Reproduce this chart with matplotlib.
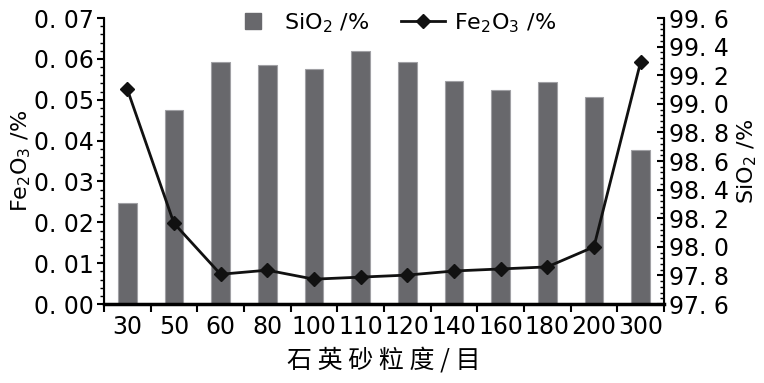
import numpy as np
import matplotlib.pyplot as plt
from matplotlib.lines import Line2D
from matplotlib.ticker import MultipleLocator, FixedLocator

# mesh sizes of the quartz sand
mesh = ["30", "50", "60", "80", "100", "110", "120", "140", "160", "180", "200", "300"]
# SiO2 content (%), bars on right axis
sio2 = [98.31, 98.96, 99.29, 99.27, 99.24, 99.37, 99.29, 99.16, 99.10, 99.15, 99.05, 98.68]
# Fe2O3 content (%), line on left axis
fe2o3 = [0.0526, 0.0198, 0.0073, 0.0083, 0.0061, 0.0066, 0.0071, 0.0081, 0.0086, 0.0091, 0.0140, 0.0592]

num_font = ["Liberation Sans Narrow", "DejaVu Sans"]
cjk_font = ["Noto Sans CJK SC", "DejaVu Sans"]
bar_color = "#68686c"

fig = plt.figure(figsize=(7.64, 3.83), dpi=100)
ax = fig.add_axes([0.136, 0.206, 0.733, 0.747])
ax2 = ax.twinx()

x = np.arange(len(mesh))

# bars on the right axis, drawn behind the line
ax2.bar(x, np.array(sio2) - 97.6, bottom=97.6, width=0.4, color=bar_color,
        edgecolor="#a0a0a4", linewidth=0.8)
ax2.set_ylim(97.6, 99.6)
ax2.yaxis.set_major_locator(MultipleLocator(0.2))
ax2.yaxis.set_minor_locator(MultipleLocator(0.04))
ax2.yaxis.set_major_formatter(plt.FuncFormatter(lambda v, p: f"{v:.1f}".replace(".", ". ")))

ax.set_zorder(ax2.get_zorder() + 1)
ax.patch.set_visible(False)
ax.plot(x, fe2o3, color="#111111", linewidth=2, marker="D", markersize=7)
ax.set_ylim(0, 0.07)
ax.set_xlim(-0.5, len(mesh) - 0.5)
ax.yaxis.set_major_locator(MultipleLocator(0.01))
ax.yaxis.set_minor_locator(MultipleLocator(0.002))
ax.yaxis.set_major_formatter(plt.FuncFormatter(lambda v, p: f"{v:.2f}".replace(".", ". ")))

ax.set_xticks(x)
ax.set_xticklabels(mesh)
ax.xaxis.set_minor_locator(FixedLocator(np.arange(-0.5, len(mesh), 1)))
ax.tick_params(axis="x", which="major", length=0, labelsize=17, pad=8)
ax.tick_params(axis="x", which="minor", length=6, width=1.5, direction="out")

for a in (ax, ax2):
    a.spines["top"].set_visible(False)
    for lab in a.get_xticklabels() + a.get_yticklabels():
        lab.set_family(num_font)
ax.spines["bottom"].set_linewidth(2.5)
ax.spines["left"].set_linewidth(1.5)
ax2.spines["right"].set_linewidth(1.5)
ax.tick_params(axis="y", which="major", length=5, width=1.5, direction="out", labelsize=17, pad=2)
ax.tick_params(axis="y", which="minor", length=3, width=1, direction="out")
ax2.tick_params(axis="y", which="major", length=5, width=1.5, direction="in", labelsize=17, pad=4)
ax2.tick_params(axis="y", which="minor", length=3, width=1, direction="in")

ax.set_xlabel("石 英 砂 粒 度 / 目", family=cjk_font, fontsize=18, labelpad=6)
ax.set_ylabel("Fe$_2$O$_3$ /%", family=num_font, fontsize=16, labelpad=1)
ax2.set_ylabel("SiO$_2$ /%", family=num_font, fontsize=16)

handles = [Line2D([], [], marker="s", linestyle="None", color=bar_color, markersize=11),
           Line2D([], [], color="#111111", linewidth=2, marker="D", markersize=7)]
labels = ["SiO$_2$ /%", "Fe$_2$O$_3$ /%"]
fig.legend(handles, labels, loc="center", bbox_to_anchor=(0.515, 0.94), ncol=2,
           frameon=False, prop={"family": num_font, "size": 16}, handlelength=2.0,
           columnspacing=1.4, handletextpad=0.4)

fig.savefig("out.png", dpi=100)
